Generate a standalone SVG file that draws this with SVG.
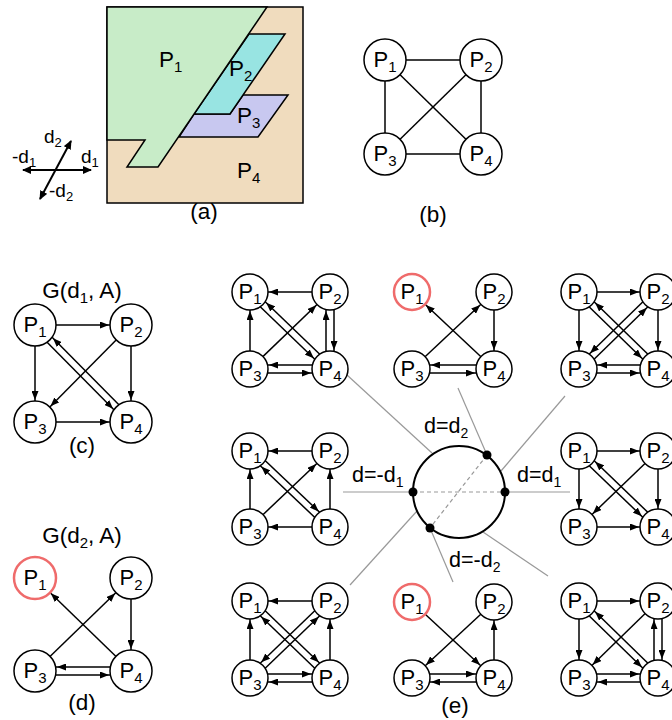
<svg xmlns="http://www.w3.org/2000/svg" width="672" height="720" viewBox="0 0 672 720">
<style>
text{font-family:"Liberation Sans",Arial,sans-serif;fill:#000}
.t{font-size:22.5px}
.n{font-size:22px;text-anchor:middle}
.s{font-size:15px}
.ax{font-size:19px}
.axs{font-size:13px}
.d{font-size:21.5px}
.ds{font-size:14px}
.c{text-anchor:middle}
circle.nd{fill:#fff;stroke:#000;stroke-width:1.5}
circle.red{fill:#fff;stroke:#ef6b6b;stroke-width:2.5}
.e{stroke:#000;stroke-width:1.5;fill:none}
.e18{marker-end:url(#m18)}
.e21{marker-end:url(#m21)}
.axl{stroke:#000;stroke-width:2;marker-start:url(#ma);marker-end:url(#ma)}
.g{stroke:#999;stroke-width:1.2}
.gd{stroke:#999;stroke-width:1.2;stroke-dasharray:4 3}
.reg{stroke:#000;stroke-width:1.5;stroke-linejoin:miter}
</style>
<defs>
<marker id="m18" markerUnits="userSpaceOnUse" markerWidth="9" markerHeight="7" refX="28" refY="3.5" orient="auto"><path d="M0,0L9,3.5L0,7z" fill="#000"/></marker>
<marker id="m21" markerUnits="userSpaceOnUse" markerWidth="9" markerHeight="7" refX="31" refY="3.5" orient="auto"><path d="M0,0L9,3.5L0,7z" fill="#000"/></marker>
<marker id="ma" markerUnits="userSpaceOnUse" markerWidth="9" markerHeight="8" refX="8" refY="4" orient="auto-start-reverse"><path d="M0,0L9,4L0,8z" fill="#000"/></marker>
</defs>
<rect width="672" height="720" fill="#fff"/>

<!-- Panel (a) -->
<g id="panel-a">
<rect class="reg" x="107" y="7" width="196" height="196" fill="#f0dcbe"/>
<polygon id="region-P3" class="reg" fill="#c8c8f0" points="243,95 288,95 258,137 179,137 194,114 230,114"/>
<polygon id="region-P2" class="reg" fill="#98e4e2" points="249,34 285,34 230,114 194,114"/>
<polygon id="region-P1" class="reg" fill="#c8ecc8" points="107,7 267,7 158,167 127,167 145,140 107,140"/>
<text class="t" x="159" y="67">P<tspan class="s" dy="5">1</tspan></text>
<text class="t" x="229" y="76">P<tspan class="s" dy="5">2</tspan></text>
<text class="t" x="237" y="123">P<tspan class="s" dy="5">3</tspan></text>
<text class="t" x="237" y="178">P<tspan class="s" dy="5">4</tspan></text>
<line class="axl" x1="23" y1="170" x2="91" y2="170"/>
<line class="axl" x1="40" y1="199" x2="71" y2="141"/>
<text class="ax" x="44" y="143">d<tspan class="axs" dy="4">2</tspan></text>
<text class="ax" x="12" y="163">-d<tspan class="axs" dy="4">1</tspan></text>
<text class="ax" x="81" y="163">d<tspan class="axs" dy="4">1</tspan></text>
<text class="ax" x="49" y="197">-d<tspan class="axs" dy="4">2</tspan></text>
<text class="t c" x="204" y="219">(a)</text>
</g>

<g id="connectors">
<!-- (b) -->
<line class="e" x1="385" y1="60" x2="481" y2="60"/>
<line class="e" x1="385" y1="60" x2="385" y2="154"/>
<line class="e" x1="481" y1="60" x2="481" y2="154"/>
<line class="e" x1="385" y1="154" x2="481" y2="154"/>
<line class="e" x1="385" y1="60" x2="481" y2="154"/>
<line class="e" x1="481" y1="60" x2="385" y2="154"/>
<!-- (c) -->
<line class="e e21" x1="35" y1="325" x2="131" y2="325"/>
<line class="e e21" x1="35" y1="325" x2="35" y2="422"/>
<line class="e e21" x1="131" y1="325" x2="131" y2="422"/>
<line class="e e21" x1="35" y1="422" x2="131" y2="422"/>
<line class="e e21" x1="131" y1="325" x2="35" y2="422"/>
<line class="e e21" x1="32.5" y1="327.5" x2="128.5" y2="424.5"/>
<line class="e e21" x1="133.5" y1="419.5" x2="37.5" y2="322.5"/>
<!-- (d) -->
<line class="e e21" x1="131" y1="671" x2="35" y2="578"/>
<line class="e e21" x1="35" y1="671" x2="131" y2="578"/>
<line class="e e21" x1="131" y1="578" x2="131" y2="671"/>
<line class="e e21" x1="131" y1="667" x2="35" y2="667"/>
<line class="e e21" x1="35" y1="675" x2="131" y2="675"/>
<!-- (e) top-left -->
<line class="e e18" x1="330" y1="292" x2="250" y2="292"/>
<line class="e e18" x1="250" y1="369" x2="250" y2="292"/>
<line class="e e18" x1="250" y1="369" x2="330" y2="292"/>
<line class="e e18" x1="247.5" y1="294.5" x2="327.5" y2="371.5"/>
<line class="e e18" x1="332.5" y1="366.5" x2="252.5" y2="289.5"/>
<line class="e e18" x1="326" y1="369" x2="326" y2="292"/>
<line class="e e18" x1="334" y1="292" x2="334" y2="369"/>
<line class="e e18" x1="330" y1="365" x2="250" y2="365"/>
<line class="e e18" x1="250" y1="373" x2="330" y2="373"/>
<!-- (e) top-middle -->
<line class="e e18" x1="494" y1="369" x2="412" y2="292"/>
<line class="e e18" x1="412" y1="369" x2="494" y2="292"/>
<line class="e e18" x1="494" y1="292" x2="494" y2="369"/>
<line class="e e18" x1="494" y1="365" x2="412" y2="365"/>
<line class="e e18" x1="412" y1="373" x2="494" y2="373"/>
<!-- (e) top-right -->
<line class="e e18" x1="579" y1="292" x2="658" y2="292"/>
<line class="e e18" x1="579" y1="292" x2="579" y2="369"/>
<line class="e e18" x1="658" y1="292" x2="658" y2="369"/>
<line class="e e18" x1="576.5" y1="294.5" x2="655.5" y2="371.5"/>
<line class="e e18" x1="660.5" y1="366.5" x2="581.5" y2="289.5"/>
<line class="e e18" x1="655.5" y1="289.5" x2="576.5" y2="366.5"/>
<line class="e e18" x1="581.5" y1="371.5" x2="660.5" y2="294.5"/>
<line class="e e18" x1="658" y1="365" x2="579" y2="365"/>
<line class="e e18" x1="579" y1="373" x2="658" y2="373"/>
<!-- (e) middle-left -->
<line class="e e18" x1="330" y1="451" x2="250" y2="451"/>
<line class="e e18" x1="250" y1="527" x2="250" y2="451"/>
<line class="e e18" x1="330" y1="527" x2="330" y2="451"/>
<line class="e e18" x1="250" y1="527" x2="330" y2="451"/>
<line class="e e18" x1="252.5" y1="448.5" x2="332.5" y2="524.5"/>
<line class="e e18" x1="327.5" y1="529.5" x2="247.5" y2="453.5"/>
<line class="e e18" x1="330" y1="527" x2="250" y2="527"/>
<!-- (e) middle-right -->
<line class="e e18" x1="579" y1="451" x2="658" y2="451"/>
<line class="e e18" x1="579" y1="451" x2="579" y2="527"/>
<line class="e e18" x1="658" y1="451" x2="658" y2="527"/>
<line class="e e18" x1="579" y1="527" x2="658" y2="527"/>
<line class="e e18" x1="658" y1="451" x2="579" y2="527"/>
<line class="e e18" x1="576.5" y1="453.5" x2="655.5" y2="529.5"/>
<line class="e e18" x1="660.5" y1="524.5" x2="581.5" y2="448.5"/>
<!-- (e) bottom-left -->
<line class="e e18" x1="330" y1="601" x2="250" y2="601"/>
<line class="e e18" x1="250" y1="678" x2="250" y2="601"/>
<line class="e e18" x1="330" y1="678" x2="330" y2="601"/>
<line class="e e18" x1="252.5" y1="598.5" x2="332.5" y2="675.5"/>
<line class="e e18" x1="327.5" y1="680.5" x2="247.5" y2="603.5"/>
<line class="e e18" x1="327.5" y1="598.5" x2="247.5" y2="675.5"/>
<line class="e e18" x1="252.5" y1="680.5" x2="332.5" y2="603.5"/>
<line class="e e18" x1="250" y1="674" x2="330" y2="674"/>
<line class="e e18" x1="330" y1="682" x2="250" y2="682"/>
<!-- (e) bottom-middle -->
<line class="e e18" x1="412" y1="602" x2="494" y2="678"/>
<line class="e e18" x1="494" y1="602" x2="412" y2="678"/>
<line class="e e18" x1="494" y1="678" x2="494" y2="602"/>
<line class="e e18" x1="412" y1="674" x2="494" y2="674"/>
<line class="e e18" x1="494" y1="682" x2="412" y2="682"/>
<!-- (e) bottom-right -->
<line class="e e18" x1="579" y1="601" x2="658" y2="601"/>
<line class="e e18" x1="579" y1="601" x2="579" y2="678"/>
<line class="e e18" x1="662" y1="601" x2="662" y2="678"/>
<line class="e e18" x1="654" y1="678" x2="654" y2="601"/>
<line class="e e18" x1="658" y1="601" x2="579" y2="678"/>
<line class="e e18" x1="576.5" y1="603.5" x2="655.5" y2="680.5"/>
<line class="e e18" x1="660.5" y1="675.5" x2="581.5" y2="598.5"/>
<line class="e e18" x1="579" y1="674" x2="658" y2="674"/>
<line class="e e18" x1="658" y1="682" x2="579" y2="682"/>
<!-- (e) gray leader lines -->
<line class="g" x1="343" y1="492" x2="413" y2="492"/>
<line class="g" x1="505" y1="492" x2="570" y2="492"/>
<line class="g" x1="347" y1="375" x2="432" y2="453"/>
<line class="g" x1="458" y1="388" x2="487" y2="455"/>
<line class="g" x1="565" y1="396" x2="501" y2="471"/>
<line class="g" x1="350" y1="585" x2="417" y2="511"/>
<line class="g" x1="430" y1="528" x2="453" y2="582"/>
<line class="g" x1="483" y1="532" x2="548" y2="576"/>
<line class="gd" x1="413" y1="492" x2="505" y2="492"/>
<line class="gd" x1="487" y1="455" x2="430" y2="528"/>
</g>

<g id="direction-circle">
<circle cx="459" cy="492" r="46" fill="none" stroke="#000" stroke-width="2"/>
<circle cx="413" cy="492" r="4.5" fill="#000"/>
<circle cx="505" cy="492" r="4.5" fill="#000"/>
<circle cx="487" cy="455" r="4.5" fill="#000"/>
<circle cx="430" cy="528" r="4.5" fill="#000"/>
<text class="d" x="424" y="433">d=d<tspan class="ds" dy="5">2</tspan></text>
<text class="d" x="352" y="482">d=-d<tspan class="ds" dy="5">1</tspan></text>
<text class="d" x="517" y="482">d=d<tspan class="ds" dy="5">1</tspan></text>
<text class="d" x="449" y="567">d=-d<tspan class="ds" dy="5">2</tspan></text>
</g>

<!-- (b) nodes -->
<g id="b-P1"><circle class="nd" cx="385" cy="60" r="21"/><text class="n" x="385" y="67">P<tspan class="s" dy="5">1</tspan></text></g>
<g id="b-P2"><circle class="nd" cx="481" cy="60" r="21"/><text class="n" x="481" y="67">P<tspan class="s" dy="5">2</tspan></text></g>
<g id="b-P3"><circle class="nd" cx="385" cy="154" r="21"/><text class="n" x="385" y="161">P<tspan class="s" dy="5">3</tspan></text></g>
<g id="b-P4"><circle class="nd" cx="481" cy="154" r="21"/><text class="n" x="481" y="161">P<tspan class="s" dy="5">4</tspan></text></g>
<text class="t c" x="433" y="222">(b)</text>

<!-- (c) nodes -->
<text class="t c" x="82" y="298">G(d<tspan class="s" dy="5">1</tspan><tspan dy="-5">, A)</tspan></text>
<g id="c-P1"><circle class="nd" cx="35" cy="325" r="21"/><text class="n" x="35" y="332">P<tspan class="s" dy="5">1</tspan></text></g>
<g id="c-P2"><circle class="nd" cx="131" cy="325" r="21"/><text class="n" x="131" y="332">P<tspan class="s" dy="5">2</tspan></text></g>
<g id="c-P3"><circle class="nd" cx="35" cy="422" r="21"/><text class="n" x="35" y="429">P<tspan class="s" dy="5">3</tspan></text></g>
<g id="c-P4"><circle class="nd" cx="131" cy="422" r="21"/><text class="n" x="131" y="429">P<tspan class="s" dy="5">4</tspan></text></g>
<text class="t c" x="82" y="453">(c)</text>

<!-- (d) nodes -->
<text class="t c" x="82" y="543">G(d<tspan class="s" dy="5">2</tspan><tspan dy="-5">, A)</tspan></text>
<g id="d-P1"><circle class="red" cx="35" cy="578" r="21"/><text class="n" x="35" y="585">P<tspan class="s" dy="5">1</tspan></text></g>
<g id="d-P2"><circle class="nd" cx="131" cy="578" r="21"/><text class="n" x="131" y="585">P<tspan class="s" dy="5">2</tspan></text></g>
<g id="d-P3"><circle class="nd" cx="35" cy="671" r="21"/><text class="n" x="35" y="678">P<tspan class="s" dy="5">3</tspan></text></g>
<g id="d-P4"><circle class="nd" cx="131" cy="671" r="21"/><text class="n" x="131" y="678">P<tspan class="s" dy="5">4</tspan></text></g>
<text class="t c" x="82" y="710">(d)</text>

<!-- (e) top-left -->
<g id="tl-P1"><circle class="nd" cx="250" cy="292" r="18"/><text class="n" x="250" y="299">P<tspan class="s" dy="5">1</tspan></text></g>
<g id="tl-P2"><circle class="nd" cx="330" cy="292" r="18"/><text class="n" x="330" y="299">P<tspan class="s" dy="5">2</tspan></text></g>
<g id="tl-P3"><circle class="nd" cx="250" cy="369" r="18"/><text class="n" x="250" y="376">P<tspan class="s" dy="5">3</tspan></text></g>
<g id="tl-P4"><circle class="nd" cx="330" cy="369" r="18"/><text class="n" x="330" y="376">P<tspan class="s" dy="5">4</tspan></text></g>
<!-- (e) top-middle -->
<g id="tm-P1"><circle class="red" cx="412" cy="292" r="18"/><text class="n" x="412" y="299">P<tspan class="s" dy="5">1</tspan></text></g>
<g id="tm-P2"><circle class="nd" cx="494" cy="292" r="18"/><text class="n" x="494" y="299">P<tspan class="s" dy="5">2</tspan></text></g>
<g id="tm-P3"><circle class="nd" cx="412" cy="369" r="18"/><text class="n" x="412" y="376">P<tspan class="s" dy="5">3</tspan></text></g>
<g id="tm-P4"><circle class="nd" cx="494" cy="369" r="18"/><text class="n" x="494" y="376">P<tspan class="s" dy="5">4</tspan></text></g>
<!-- (e) top-right -->
<g id="tr-P1"><circle class="nd" cx="579" cy="292" r="18"/><text class="n" x="579" y="299">P<tspan class="s" dy="5">1</tspan></text></g>
<g id="tr-P2"><circle class="nd" cx="658" cy="292" r="18"/><text class="n" x="658" y="299">P<tspan class="s" dy="5">2</tspan></text></g>
<g id="tr-P3"><circle class="nd" cx="579" cy="369" r="18"/><text class="n" x="579" y="376">P<tspan class="s" dy="5">3</tspan></text></g>
<g id="tr-P4"><circle class="nd" cx="658" cy="369" r="18"/><text class="n" x="658" y="376">P<tspan class="s" dy="5">4</tspan></text></g>
<!-- (e) middle-left -->
<g id="ml-P1"><circle class="nd" cx="250" cy="451" r="18"/><text class="n" x="250" y="458">P<tspan class="s" dy="5">1</tspan></text></g>
<g id="ml-P2"><circle class="nd" cx="330" cy="451" r="18"/><text class="n" x="330" y="458">P<tspan class="s" dy="5">2</tspan></text></g>
<g id="ml-P3"><circle class="nd" cx="250" cy="527" r="18"/><text class="n" x="250" y="534">P<tspan class="s" dy="5">3</tspan></text></g>
<g id="ml-P4"><circle class="nd" cx="330" cy="527" r="18"/><text class="n" x="330" y="534">P<tspan class="s" dy="5">4</tspan></text></g>
<!-- (e) middle-right -->
<g id="mr-P1"><circle class="nd" cx="579" cy="451" r="18"/><text class="n" x="579" y="458">P<tspan class="s" dy="5">1</tspan></text></g>
<g id="mr-P2"><circle class="nd" cx="658" cy="451" r="18"/><text class="n" x="658" y="458">P<tspan class="s" dy="5">2</tspan></text></g>
<g id="mr-P3"><circle class="nd" cx="579" cy="527" r="18"/><text class="n" x="579" y="534">P<tspan class="s" dy="5">3</tspan></text></g>
<g id="mr-P4"><circle class="nd" cx="658" cy="527" r="18"/><text class="n" x="658" y="534">P<tspan class="s" dy="5">4</tspan></text></g>
<!-- (e) bottom-left -->
<g id="bl-P1"><circle class="nd" cx="250" cy="601" r="18"/><text class="n" x="250" y="608">P<tspan class="s" dy="5">1</tspan></text></g>
<g id="bl-P2"><circle class="nd" cx="330" cy="601" r="18"/><text class="n" x="330" y="608">P<tspan class="s" dy="5">2</tspan></text></g>
<g id="bl-P3"><circle class="nd" cx="250" cy="678" r="18"/><text class="n" x="250" y="685">P<tspan class="s" dy="5">3</tspan></text></g>
<g id="bl-P4"><circle class="nd" cx="330" cy="678" r="18"/><text class="n" x="330" y="685">P<tspan class="s" dy="5">4</tspan></text></g>
<!-- (e) bottom-middle -->
<g id="bm-P1"><circle class="red" cx="412" cy="602" r="18"/><text class="n" x="412" y="609">P<tspan class="s" dy="5">1</tspan></text></g>
<g id="bm-P2"><circle class="nd" cx="494" cy="602" r="18"/><text class="n" x="494" y="609">P<tspan class="s" dy="5">2</tspan></text></g>
<g id="bm-P3"><circle class="nd" cx="412" cy="678" r="18"/><text class="n" x="412" y="685">P<tspan class="s" dy="5">3</tspan></text></g>
<g id="bm-P4"><circle class="nd" cx="494" cy="678" r="18"/><text class="n" x="494" y="685">P<tspan class="s" dy="5">4</tspan></text></g>
<!-- (e) bottom-right -->
<g id="br-P1"><circle class="nd" cx="579" cy="601" r="18"/><text class="n" x="579" y="608">P<tspan class="s" dy="5">1</tspan></text></g>
<g id="br-P2"><circle class="nd" cx="658" cy="601" r="18"/><text class="n" x="658" y="608">P<tspan class="s" dy="5">2</tspan></text></g>
<g id="br-P3"><circle class="nd" cx="579" cy="678" r="18"/><text class="n" x="579" y="685">P<tspan class="s" dy="5">3</tspan></text></g>
<g id="br-P4"><circle class="nd" cx="658" cy="678" r="18"/><text class="n" x="658" y="685">P<tspan class="s" dy="5">4</tspan></text></g>
<text class="t c" x="455" y="713">(e)</text>
</svg>
